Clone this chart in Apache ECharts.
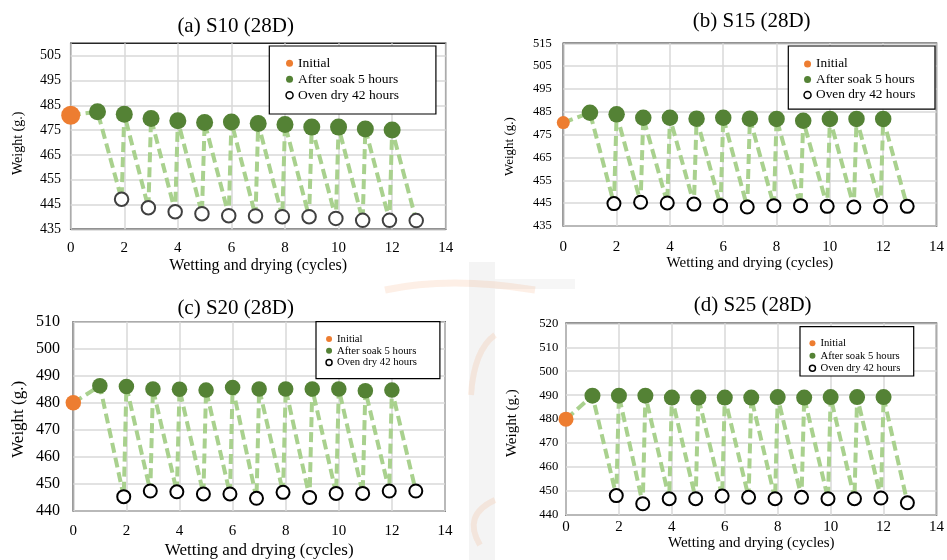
<!DOCTYPE html>
<html>
<head>
<meta charset="utf-8">
<script src="https://cdn.jsdelivr.net/npm/echarts@6/dist/echarts.min.js"></script>
<style>
  html, body { margin: 0; padding: 0; background: #ffffff; }
  #chart { width: 947px; height: 560px; }
</style>
</head>
<body>
<div id="chart"></div>
<script>
// ---- measured weights (g.) per wetting/drying cycle ----
const soakCycles = [1, 2, 3, 4, 5, 6, 7, 8, 9, 10, 11, 12];
const dryCycles = [1.9, 2.9, 3.9, 4.9, 5.9, 6.9, 7.9, 8.9, 9.9, 10.9, 11.9, 12.9];

const s10Initial = 481.0;
const s10Soak = [482.4, 481.4, 479.7, 478.8, 478.1, 478.3, 477.7, 477.3, 476.2, 476.2, 475.4, 475.0];
const s10Dry  = [447.1, 443.7, 442.1, 441.3, 440.5, 440.4, 440.1, 440.1, 439.4, 438.6, 438.6, 438.5];

const s15Initial = 480.3;
const s15Soak = [484.6, 483.9, 482.4, 482.4, 482.0, 482.4, 482.0, 481.9, 481.1, 481.9, 481.9, 481.9];
const s15Dry  = [444.8, 445.4, 445.1, 444.6, 443.9, 443.3, 443.9, 443.9, 443.6, 443.3, 443.6, 443.6];

const s20Initial = 480.0;
const s20Soak = [486.3, 486.0, 485.1, 485.0, 484.7, 485.7, 485.1, 485.1, 485.1, 485.1, 484.5, 484.7];
const s20Dry  = [445.3, 447.4, 447.1, 446.3, 446.3, 444.7, 446.9, 445.0, 446.5, 446.5, 447.4, 447.4];

const s25Initial = 480.0;
const s25Soak = [489.8, 489.8, 489.8, 489.0, 489.0, 489.0, 489.0, 489.2, 489.0, 489.2, 489.2, 489.2];
const s25Dry  = [448.1, 444.7, 446.8, 446.8, 447.9, 447.4, 446.8, 447.4, 446.8, 446.8, 447.1, 445.1];

const panelTitles = ['(a) S10 (28D)', '(b) S15 (28D)', '(c) S20 (28D)', '(d) S25 (28D)'];
const legendNames = ['Initial', 'After soak 5 hours', 'Oven dry 42 hours'];
const xAxisTitle = 'Wetting and drying (cycles)';
const yAxisTitle = 'Weight (g.)';

// y-axis ranges: [min, max, label step]
const yRanges = [[435, 510, 10], [435, 515, 10], [440, 510, 10], [440, 520, 10]];

const panelData = [
  { init: s10Initial, soak: s10Soak, dry: s10Dry },
  { init: s15Initial, soak: s15Soak, dry: s15Dry },
  { init: s20Initial, soak: s20Soak, dry: s20Dry },
  { init: s25Initial, soak: s25Soak, dry: s25Dry }
];

// ---- layout and style of each panel ----
const FONT = "'Liberation Serif', 'Times New Roman', serif";
const ORANGE = '#ED7D31';
const GREEN = '#548235';
const PATH_GREEN = '#A9D18E';
const GRID_GRAY = '#D9D9D9';

const layout = [
  { grid: { left: 70.7, top: 43.3, width: 375, height: 186 },
    title: [235.7, 26],
    yLabel: { size: 14, margin: 9.7 }, xLabel: { size: 15, margin: 11 },
    xName: { size: 16, gap: 28.5 }, yName: { size: 14, gap: 45.7, shift: 14 },
    mark: { init: 19, soak: 17, dry: 13.5, dryBorder: '#404040' },
    legend: { left: 269.3, top: 46, pad: [9.3, 37, 10.7, 16], size: 13.5, lh: 16, icon: 7 } },
  { grid: { left: 563.3, top: 43.3, width: 375.3, height: 182.7 },
    title: [751.7, 21.7],
    yLabel: { size: 12.5, margin: 11.6 }, xLabel: { size: 15, margin: 14 },
    xName: { size: 15, gap: 28 }, yName: { size: 13, gap: 46.8, shift: 24 },
    mark: { init: 13, soak: 16.5, dry: 13, dryBorder: '#000000' },
    legend: { left: 788.3, top: 46, pad: [10.2, 19.6, 6.5, 15], size: 13.3, lh: 15.5, icon: 7 } },
  { grid: { left: 73.3, top: 321.7, width: 371.7, height: 196.6 },
    title: [235.7, 308.3],
    yLabel: { size: 16, margin: 13.3 }, xLabel: { size: 15, margin: 12.5 },
    xName: { size: 17, gap: 31 }, yName: { size: 17, gap: 46.5, shift: 6 },
    mark: { init: 15.5, soak: 15.5, dry: 13, dryBorder: '#000000' },
    legend: { left: 316, top: 321.7, pad: [11.3, 23, 10.3, 9.3], size: 10.7, lh: 11.8, icon: 6 } },
  { grid: { left: 566, top: 323.3, width: 374, height: 191.7 },
    title: [752.7, 305],
    yLabel: { size: 12.7, margin: 7.7 }, xLabel: { size: 15, margin: 4.5 },
    xName: { size: 15, gap: 19 }, yName: { size: 15, gap: 46.8, shift: 8 },
    mark: { init: 15, soak: 16, dry: 13, dryBorder: '#000000' },
    legend: { left: 800, top: 326.7, pad: [10.3, 13.4, 1.5, 8.7], size: 10.7, lh: 12.5, icon: 6 } }
];

function pathPoints(d) {
  const pts = [[0, d.init]];
  for (let i = 0; i < soakCycles.length; i++) {
    pts.push([soakCycles[i], d.soak[i]]);
    pts.push([dryCycles[i], d.dry[i]]);
  }
  return pts;
}

const grids = [], xAxes = [], yAxes = [], series = [], legends = [], graphics = [];

// faint page watermark between the panels
const WM_ORANGE = 'rgba(237,125,49,0.12)';
graphics.push(
  { type: 'rect', z: -10, shape: { x: 469, y: 262, width: 26, height: 298 }, style: { fill: '#F4F4F4' } },
  { type: 'rect', z: -10, shape: { x: 495, y: 279, width: 80, height: 10 }, style: { fill: '#F6F6F6' } },
  { type: 'bezierCurve', z: -9,
    shape: { x1: 385, y1: 290, cpx1: 450, cpy1: 276, x2: 535, y2: 290 },
    style: { fill: null, stroke: WM_ORANGE, lineWidth: 7 } },
  { type: 'bezierCurve', z: -9,
    shape: { x1: 471, y1: 395, cpx1: 474, cpy1: 350, x2: 495, y2: 335 },
    style: { fill: null, stroke: WM_ORANGE, lineWidth: 6 } },
  { type: 'bezierCurve', z: -9,
    shape: { x1: 495, y1: 500, cpx1: 462, cpy1: 515, x2: 480, y2: 545 },
    style: { fill: null, stroke: WM_ORANGE, lineWidth: 6 } }
);

layout.forEach((L, k) => {
  const d = panelData[k];
  const [yMin, yMax, yStep] = yRanges[k];
  const alignedMin = yMin % yStep === 0;

  grids.push(Object.assign({
    show: true, borderColor: '#262626', borderWidth: 1.5, backgroundColor: '#ffffff',
    containLabel: false
  }, L.grid));

  xAxes.push({
    gridIndex: k, type: 'value', min: 0, max: 14, interval: 2,
    axisLine: { show: false }, axisTick: { show: false },
    splitLine: { show: true, lineStyle: { color: GRID_GRAY, width: 1.5 } },
    axisLabel: { color: '#000', fontFamily: FONT, fontSize: L.xLabel.size, margin: L.xLabel.margin },
    name: xAxisTitle, nameLocation: 'middle', nameGap: L.xName.gap,
    nameTextStyle: { color: '#000', fontFamily: FONT, fontSize: L.xName.size }
  });

  // when the range starts off the 10-grid, ticks go every 5 and every other one is blank
  const tickStep = alignedMin ? yStep : yStep / 2;
  yAxes.push({
    gridIndex: k, type: 'value', min: yMin, max: yMax, interval: tickStep,
    axisLine: { show: false }, axisTick: { show: false },
    splitLine: { show: true, lineStyle: {
      color: alignedMin ? GRID_GRAY : [GRID_GRAY, 'rgba(0,0,0,0)'], width: 1.5 } },
    axisLabel: {
      color: '#000', fontFamily: FONT, fontSize: L.yLabel.size, margin: L.yLabel.margin,
      showMaxLabel: true,
      formatter: v => ((v - yMin) % yStep === 0 ? String(v) : '')
    },
    name: yAxisTitle, nameLocation: 'middle', nameGap: L.yName.gap, nameRotate: 90,
    nameTextStyle: { color: '#000', fontFamily: FONT, fontSize: L.yName.size,
      padding: [0, L.yName.shift, 0, 0] }
  });

  series.push({
    name: 'wet-dry path', type: 'line', xAxisIndex: k, yAxisIndex: k,
    data: pathPoints(d), symbol: 'none', silent: true, z: 2,
    lineStyle: { color: PATH_GREEN, width: 4, type: [10, 5] }
  });
  series.push({
    name: legendNames[0], type: 'scatter', xAxisIndex: k, yAxisIndex: k, z: 4,
    data: [[0, d.init]], symbol: 'circle', symbolSize: L.mark.init,
    itemStyle: { color: ORANGE, opacity: 1 }
  });
  series.push({
    name: legendNames[1], type: 'scatter', xAxisIndex: k, yAxisIndex: k, z: 4,
    data: soakCycles.map((c, i) => [c, d.soak[i]]), symbol: 'circle', symbolSize: L.mark.soak,
    itemStyle: { color: GREEN, opacity: 1 }
  });
  series.push({
    name: legendNames[2], type: 'scatter', xAxisIndex: k, yAxisIndex: k, z: 4,
    data: dryCycles.map((c, i) => [c, d.dry[i]]), symbol: 'circle', symbolSize: L.mark.dry,
    itemStyle: { color: '#ffffff', borderColor: L.mark.dryBorder, borderWidth: 2, opacity: 1 }
  });

  const LG = L.legend;
  legends.push({
    orient: 'vertical', left: LG.left, top: LG.top, padding: LG.pad, itemGap: 0,
    itemWidth: LG.icon, itemHeight: LG.icon, icon: 'circle',
    backgroundColor: '#ffffff', borderColor: '#000000', borderWidth: 1.2, borderRadius: 0,
    selectedMode: false, z: 10,
    textStyle: { color: '#000', fontFamily: FONT, fontSize: LG.size, lineHeight: LG.lh },
    data: [
      { name: legendNames[0], itemStyle: { color: ORANGE, borderWidth: 0 } },
      { name: legendNames[1], itemStyle: { color: GREEN, borderWidth: 0 } },
      { name: legendNames[2], itemStyle: { color: '#ffffff', borderColor: '#000', borderWidth: 1.5 } }
    ]
  });

  graphics.push({
    type: 'text', x: L.title[0], y: L.title[1], z: 10,
    style: {
      text: panelTitles[k], fill: '#000', font: '21px ' + FONT,
      align: 'center', verticalAlign: 'middle', textAlign: 'center', textVerticalAlign: 'middle'
    }
  });
});

const chart = echarts.init(document.getElementById('chart'), null, { renderer: 'canvas' });
chart.setOption({
  animation: false,
  backgroundColor: '#ffffff',
  grid: grids,
  xAxis: xAxes,
  yAxis: yAxes,
  legend: legends,
  series: series,
  graphic: graphics
});
</script>
</body>
</html>
